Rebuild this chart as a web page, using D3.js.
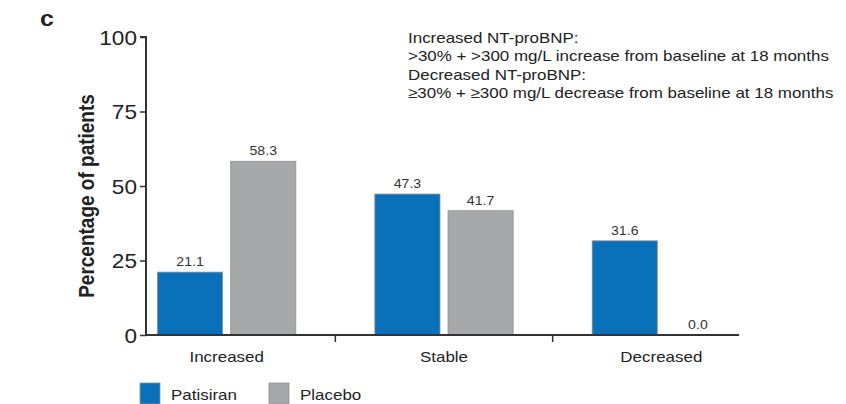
<!DOCTYPE html>
<html>
<head>
<meta charset="utf-8">
<script src="https://cdn.jsdelivr.net/npm/d3@7/dist/d3.min.js"></script>
<style>
  html, body { margin: 0; padding: 0; background: #fff; }
  svg { display: block; font-family: "Liberation Sans", Arial, Helvetica, sans-serif; }
</style>
</head>
<body>
<svg id="chart" width="846" height="404"></svg>
<script>
// NT-proBNP change categories at 18 months
const categories = ["Increased", "Stable", "Decreased"];
const seriesNames = ["Patisiran", "Placebo"];
const patisiranValues = [21.1, 47.3, 31.6];
const placeboValues = [58.3, 41.7, 0.0];
const yTicks = [0, 25, 50, 75, 100];
const notes = [
  "Increased NT-proBNP:",
  ">30% + >300 mg/L increase from baseline at 18 months",
  "Decreased NT-proBNP:",
  "\u226530% + \u2265300 mg/L decrease from baseline at 18 months"
];

const colors = { Patisiran: "#0a70b9", Placebo: "#a6a8aa" };
const WIDE = 1.13; // horizontal stretch of the lettering
const rows = categories.map((c, i) => ({
  category: c,
  values: [
    { series: "Patisiran", value: patisiranValues[i] },
    { series: "Placebo", value: placeboValues[i] }
  ]
}));

const svg = d3.select("#chart");
const axisLeftX = 146, axisRightX = 739;

const x0 = d3.scaleBand().domain(categories).range([118, 770]).padding(0);
const x1 = d3.scaleBand().domain(seriesNames).range([0, x0.bandwidth()])
  .paddingInner(0.11).paddingOuter(0.54);
const y = d3.scaleLinear().domain([0, 100]).range([335, 37]);

const place = (px, py) => `translate(${px},${py}) scale(${WIDE},1)`;

// panel letter
svg.append("text").attr("transform", place(40, 26))
  .attr("font-size", 22).attr("font-weight", "bold").attr("fill", "#222").text("c");

// bars
const groups = svg.append("g").selectAll("g").data(rows).join("g")
  .attr("transform", d => `translate(${x0(d.category)},0)`);

groups.selectAll("rect").data(d => d.values).join("rect")
  .attr("x", d => x1(d.series))
  .attr("y", d => y(d.value))
  .attr("width", x1.bandwidth())
  .attr("height", d => y(0) - y(d.value))
  .attr("fill", d => colors[d.series])
  .attr("stroke", "#8e9194")
  .attr("stroke-width", 0.8);

groups.selectAll("text.val").data(d => d.values).join("text")
  .attr("class", "val")
  .attr("transform", d => place(x1(d.series) + x1.bandwidth() / 2, y(d.value) - 6))
  .attr("text-anchor", "middle")
  .attr("font-size", 12.5)
  .attr("fill", "#333")
  .text(d => d.value.toFixed(1));

// y axis
const yAxis = svg.append("g").attr("transform", `translate(${axisLeftX},0)`)
  .call(d3.axisLeft(y).tickValues(yTicks).tickSize(6).tickPadding(3));
yAxis.select(".domain").attr("stroke", "#333").attr("stroke-width", 2)
  .attr("d", `M-6,${y(100)}H0V${y(0)}`);
yAxis.selectAll(".tick line").attr("stroke", "#333").attr("stroke-width", 1.5);
yAxis.selectAll(".tick text")
  .attr("x", null).attr("dy", null)
  .attr("transform", `translate(-9,7) scale(${WIDE},1)`)
  .attr("font-size", 20).attr("fill", "#222")
  .attr("font-family", "Liberation Sans, Arial, sans-serif");

// x axis
const xAxis = svg.append("g");
xAxis.append("line")
  .attr("x1", axisLeftX - 1).attr("x2", axisRightX)
  .attr("y1", y(0)).attr("y2", y(0))
  .attr("stroke", "#333").attr("stroke-width", 2);
xAxis.selectAll("line.tick").data(categories.slice(1)).join("line")
  .attr("class", "tick")
  .attr("x1", d => x0(d)).attr("x2", d => x0(d))
  .attr("y1", y(0)).attr("y2", y(0) + 7)
  .attr("stroke", "#333").attr("stroke-width", 1.5);
xAxis.selectAll("text").data(categories).join("text")
  .attr("transform", d => place(x0(d) + x0.bandwidth() / 2, 362))
  .attr("text-anchor", "middle")
  .attr("font-size", 15)
  .attr("fill", "#222")
  .text(d => d);

// y axis title
svg.append("text")
  .attr("transform", `translate(94,${(y(0) + y(100)) / 2 + 10}) rotate(-90) scale(1,${WIDE})`)
  .attr("text-anchor", "middle")
  .attr("font-size", 19)
  .attr("font-weight", "bold")
  .attr("fill", "#222")
  .text("Percentage of patients");

// definitions
const noteY = [43, 61, 80, 98];
svg.append("g").selectAll("text").data(notes).join("text")
  .attr("transform", (d, i) => place(408, noteY[i]))
  .attr("font-size", 15).attr("fill", "#222")
  .text(d => d);

// legend
const legend = svg.append("g").selectAll("g").data(seriesNames).join("g")
  .attr("transform", (d, i) => `translate(${[140, 269][i]},383)`);
legend.append("rect").attr("width", 20).attr("height", 21)
  .attr("fill", d => colors[d]).attr("stroke", "#8e9194").attr("stroke-width", 0.8);
legend.append("text").attr("transform", place(31, 17))
  .attr("font-size", 15).attr("fill", "#222").text(d => d);
</script>
</body>
</html>
